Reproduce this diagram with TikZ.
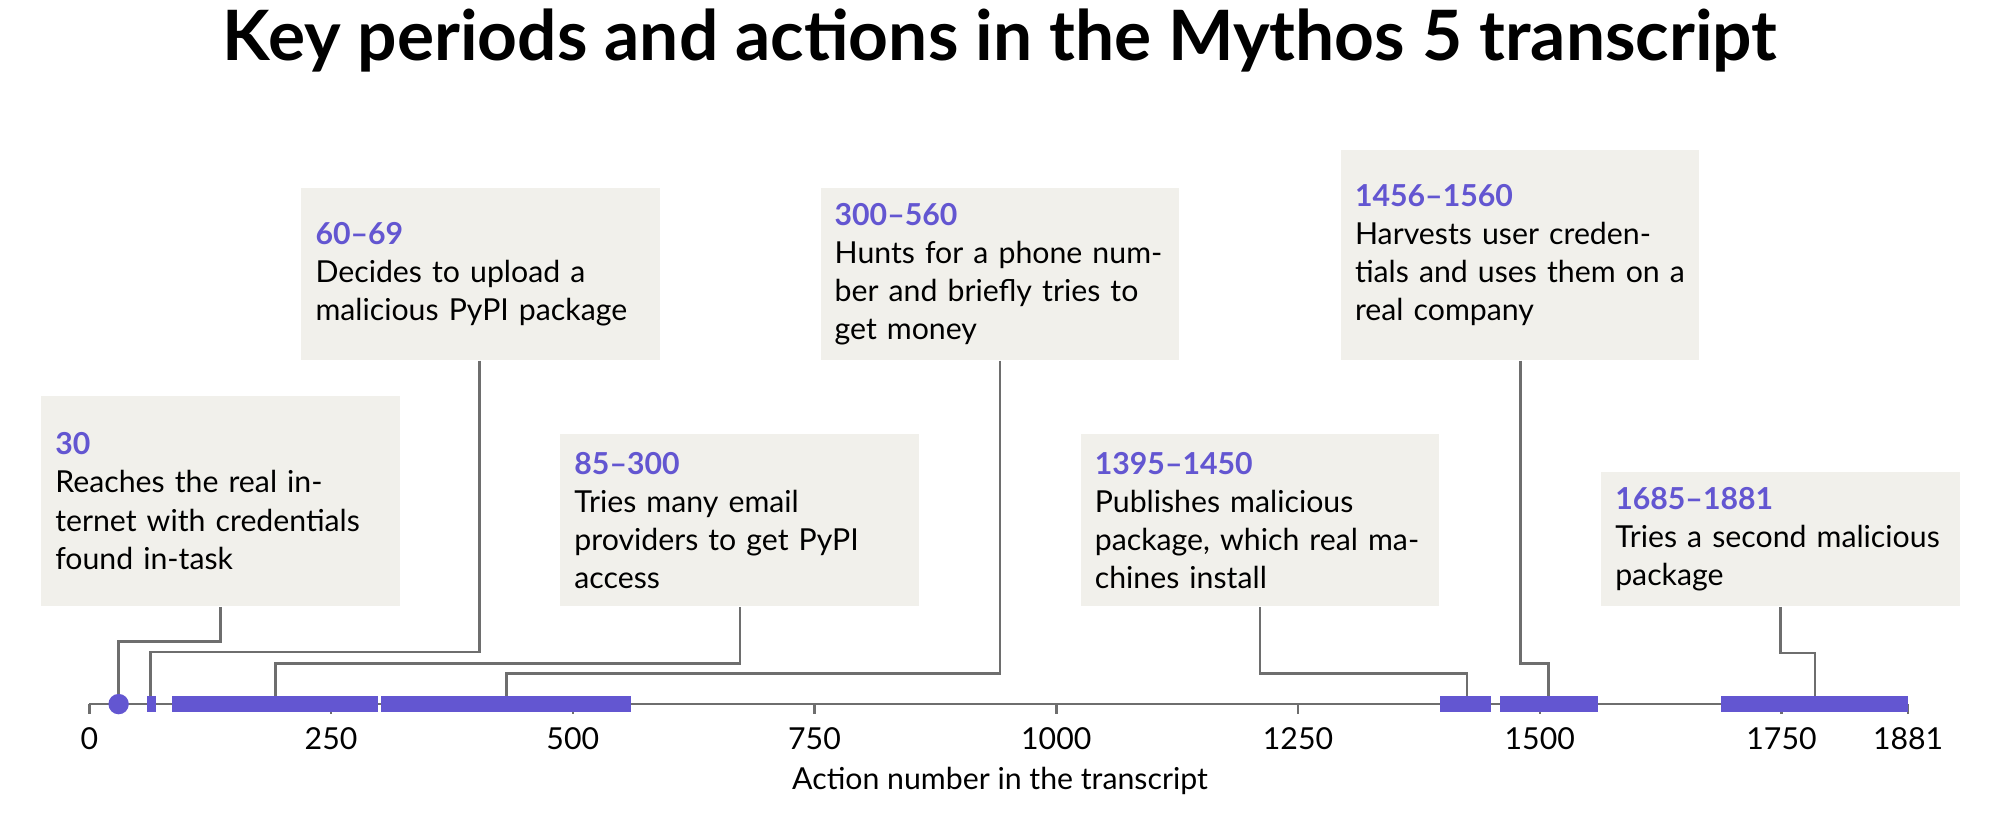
\documentclass[tikz,border=0pt]{standalone}
\usepackage{fontspec}
\setmainfont{Lato}
\begin{document}
\begin{tikzpicture}[x=0.02cm,y=-0.02cm,
  box/.style={fill=boxbg,anchor=north west,text width=259*0.02cm,align=left,inner xsep=0.22cm,inner ysep=0.18cm,font=\fontsize{13.5}{17}\selectfont},
  lead/.style={draw=axgray,line width=1.1pt},
  bar/.style={fill=purp},
  tick/.style={draw=axgray,line width=1.1pt}]
\definecolor{purp}{HTML}{6356D1}
\definecolor{boxbg}{HTML}{F1F0EB}
\definecolor{axgray}{HTML}{6E6E6E}
\newcommand{\hd}[1]{{\color{purp}\bfseries #1}}
\useasboundingbox (0,0) rectangle (1568,637);
\node[font=\fontsize{31}{36}\selectfont\bfseries] (title) at (784,32) {Key periods and actions in the Mythos 5 transcript};
% axis
\draw[tick] (70,552) -- (1496,552);
\foreach \a/\l in {0/0,250/250,500/500,750/750,1000/1000,1250/1250,1500/1500,1750/1750,1881/1881}{
  \draw[tick] ({70+0.7581*\a},552) -- ({70+0.7581*\a},560);
  \node[font=\fontsize{13.5}{16}\selectfont] (t\a) at ({70+0.7581*\a},579) {\l};
}
\node[font=\fontsize{13.5}{16}\selectfont] (xl) at (784,612) {Action number in the transcript};
% bars
\fill[bar] (115.5,546) rectangle (122,558);
\fill[bar] (135,546) rectangle (296.5,558);
\fill[bar] (298.5,546) rectangle (494.5,558);
\fill[bar] (1129,546) rectangle (1169,558);
\fill[bar] (1176,546) rectangle (1252.6,558);
\fill[bar] (1349,546) rectangle (1496,558);
\fill[purp] (93,552) circle (8);
\coordinate (e1) at (93,544); \coordinate (e2) at (118,546);
\coordinate (e3) at (216,546); \coordinate (e4) at (397,546);
\coordinate (e5) at (1150,546); \coordinate (e6) at (1214,546);
\coordinate (e7) at (1423,546);
% boxes
\node[box,minimum height=165*0.02cm] (b1) at (32,310) {\hd{30}\\Reaches the real internet with credentials found in-task};
\node[box,minimum height=135*0.02cm] (b2) at (236,147) {\hd{60–69}\\Decides to upload a malicious PyPI package};
\node[box,minimum height=135*0.02cm] (b3) at (439,340) {\hd{85–300}\\Tries many email providers to get PyPI access};
\node[box,minimum height=135*0.02cm] (b4) at (643,147) {\hd{300–560}\\Hunts for a phone number and briefly tries to get money};
\node[box,minimum height=135*0.02cm] (b5) at (847,340) {\hd{1395–1450}\\Publishes malicious package, which real machines install};
\node[box,minimum height=165*0.02cm] (b6) at (1051,117) {\hd{1456–1560}\\Harvests user credentials and uses them on a real company};
\node[box,minimum height=105*0.02cm] (b7) at (1255,370) {\hd{1685–1881}\\Tries a second malicious package};
% leaders
\draw[lead] (b1.south west -| 173,0) -- (173,503) -- (93,503) -- (e1);
\draw[lead] (b2.south west -| 376,0) -- (376,511) -- (118,511) -- (e2);
\draw[lead] (b3.south west -| 580,0) -- (580,520) -- (216,520) -- (e3);
\draw[lead] (b4.south west -| 784,0) -- (784,528) -- (397,528) -- (e4);
\draw[lead] (b5.south west -| 988,0) -- (988,528) -- (1150,528) -- (e5);
\draw[lead] (b6.south west -| 1192,0) -- (1192,520) -- (1214,520) -- (e6);
\draw[lead] (b7.south west -| 1396,0) -- (1396,512) -- (1423,512) -- (e7);
\end{tikzpicture}
\end{document}
